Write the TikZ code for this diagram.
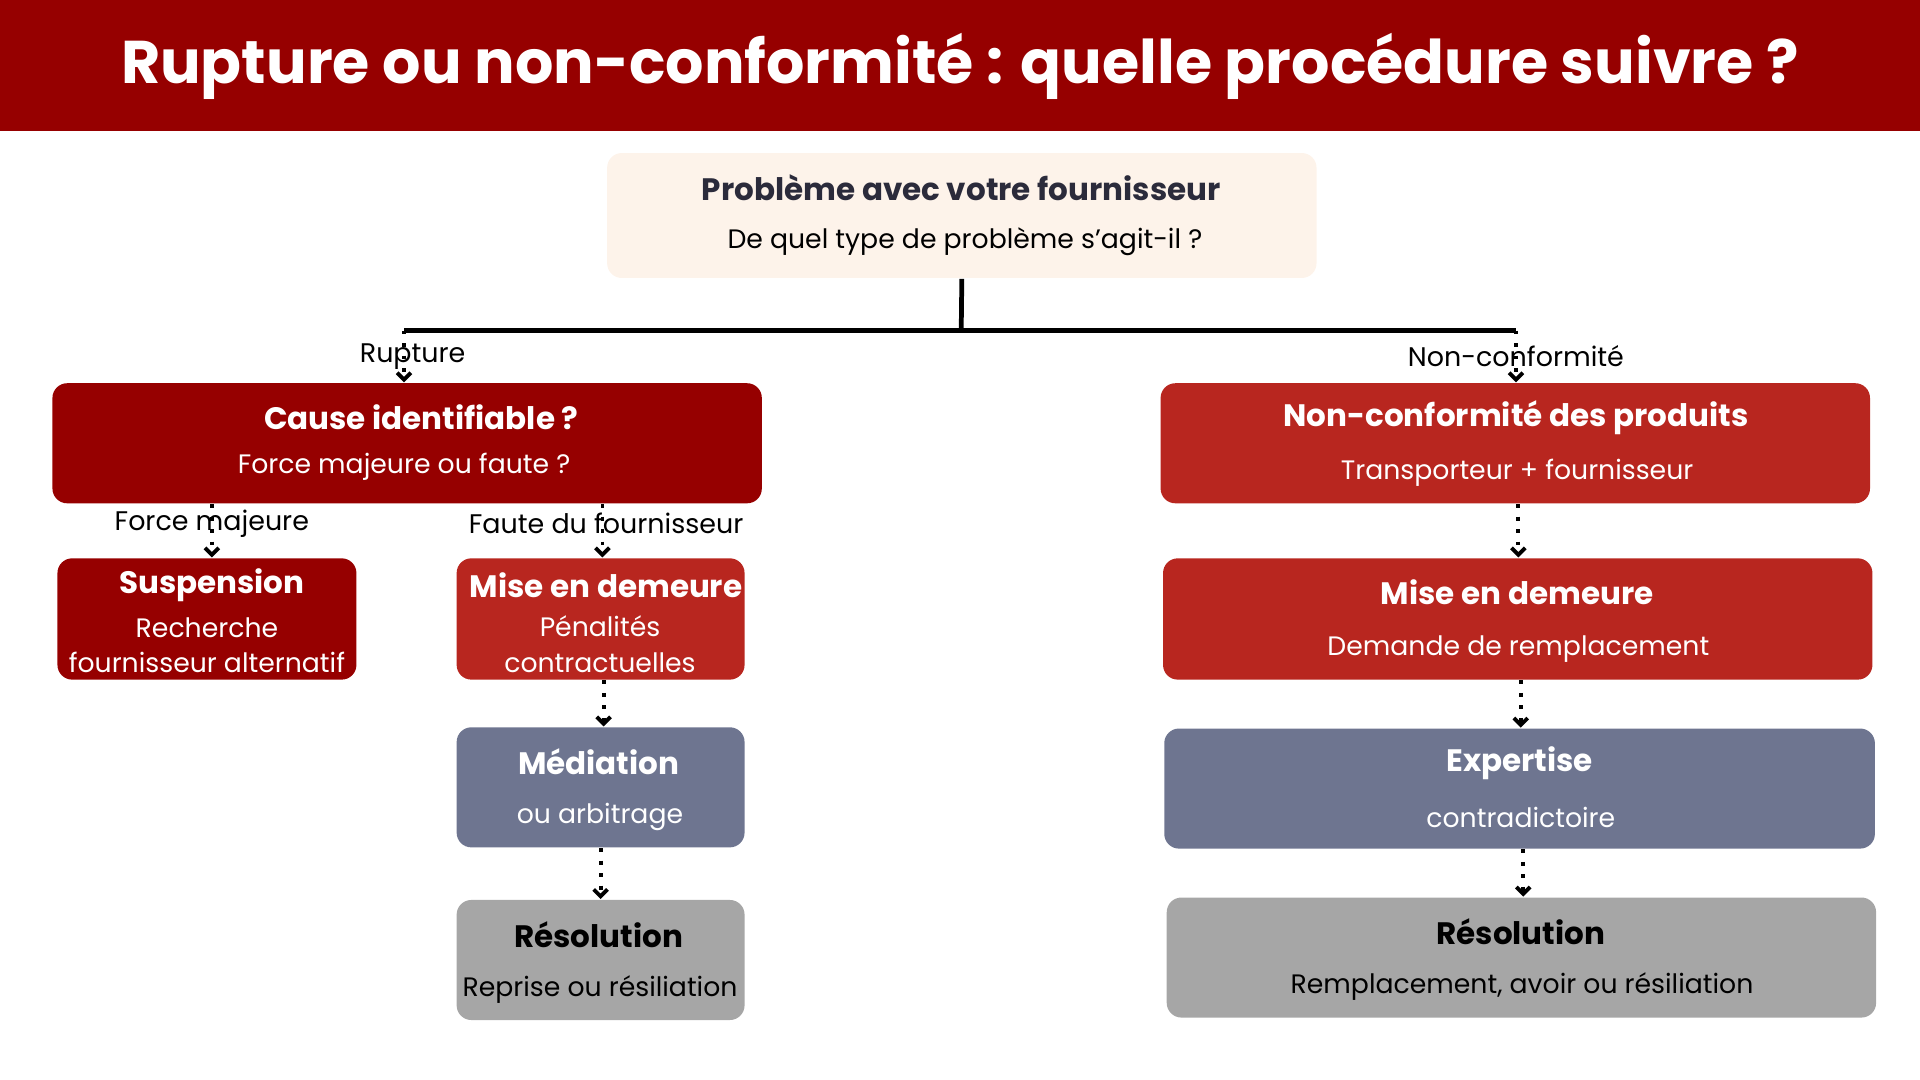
\documentclass[tikz,border=0pt]{standalone}
\usepackage{fontspec}
\setmainfont{Poppins}
\usetikzlibrary{arrows.meta}
\definecolor{barred}{HTML}{960000}
\definecolor{midred}{HTML}{B8261F}
\definecolor{slate}{HTML}{6E7590}
\definecolor{greybox}{HTML}{A6A6A6}
\definecolor{cream}{HTML}{FDF3EA}
\definecolor{navy}{HTML}{2B2B3B}
\tikzset{
  box/.style={rounded corners=0.12cm, inner sep=0pt},
  head/.style={font=\fontsize{7.2}{8.5}\selectfont\bfseries, text=white},
  sub/.style={font=\fontsize{6.2}{8.2}\selectfont, text=white, align=center},
  lab/.style={font=\fontsize{6.25}{7.5}\selectfont, text=black},
  flow/.style={dotted, line width=0.9pt, -{Straight Barb[length=1.6pt,width=3.2pt]}},
}
\begin{document}
\begin{tikzpicture}[x=0.01cm, y=-0.01cm]
\useasboundingbox (0,0) rectangle (1568,882);
\fill[barred] (0,0) rectangle (1568,107);
\node[font=\fontsize{14}{17}\selectfont\bfseries, text=white] (title) at (784,54) {Rupture ou non-conformité : quelle procédure suivre ?};

% top question
\node[box, fill=cream, minimum width=5.79cm, minimum height=1.02cm] (prob) at (785.5,176) {};
\node[head, text=navy] (probh) at (785,153) {Problème avec votre fournisseur};
\node[sub, text=black] (probs) at (788,197) {De quel type de problème s’agit-il ?};

% left branch
\node[box, fill=barred, minimum width=5.79cm, minimum height=0.98cm] (cause) at (332.5,362) {};
\node[head] at (344,341) {Cause identifiable ?};
\node[sub] at (330,381) {Force majeure ou faute ?};
\node[box, fill=barred, minimum width=2.44cm, minimum height=0.99cm] (susp) at (169,505.5) {};
\node[head] at (173,478) {Suspension};
\node[sub] at (169,527) {Recherche\\fournisseur alternatif};
\node[box, fill=midred, minimum width=2.35cm, minimum height=0.99cm] (mdl) at (490.5,505.5) {};
\node[head] at (495,478) {Mise en demeure};
\node[sub] at (490,526) {Pénalités\\contractuelles};
\node[box, fill=slate, minimum width=2.35cm, minimum height=0.98cm] (med) at (490.5,643) {};
\node[head] at (489,622) {Médiation};
\node[sub] at (490,667) {ou arbitrage};
\node[box, fill=greybox, minimum width=2.35cm, minimum height=0.98cm] (resl) at (490.5,784) {};
\node[head, text=black] at (489,763) {Résolution};
\node[sub, text=black] at (490,808) {Reprise ou résiliation};

% right branch
\node[box, fill=midred, minimum width=5.79cm, minimum height=0.98cm] (ncp) at (1237.5,362) {};
\node[head] at (1238,341) {Non-conformité des produits};
\node[sub] at (1239,386) {Transporteur + fournisseur};
\node[box, fill=midred, minimum width=5.79cm, minimum height=0.99cm] (mdr) at (1239.5,505.5) {};
\node[head] at (1239,484) {Mise en demeure};
\node[sub] at (1240,530) {Demande de remplacement};
\node[box, fill=slate, minimum width=5.8cm, minimum height=0.98cm] (exp) at (1241,644) {};
\node[head] at (1241,623) {Expertise};
\node[sub] at (1242,668) {contradictoire};
\node[box, fill=greybox, minimum width=5.79cm, minimum height=0.98cm] (resr) at (1242.5,782) {};
\node[head, text=black] at (1242,761) {Résolution};
\node[sub, text=black] at (1243,806) {Remplacement, avoir ou résiliation};

% connectors
\coordinate (split) at (785,270);
\coordinate (jrup) at (330,270);
\coordinate (jnc) at (1238,270);
\draw[line width=1.1pt] (prob.south) -- (split);
\draw[line width=1.1pt] (jrup) -- (jnc);
\node[lab] at (337,291) {Rupture};
\node[lab] at (1238,291) {Non-conformité};
\node[lab] at (173,428) {Force majeure};
\node[lab] at (495,427) {Faute du fournisseur};
\draw[flow] (jrup) -- (jrup |- cause.north);
\draw[flow] (jnc) -- (jnc |- ncp.north);
\draw[flow] (cause.south -| susp.north) ++(4,0) coordinate (fm) -- (fm |- susp.north);
\draw[flow] (cause.south -| 492,0) coordinate (ff) -- (ff |- mdl.north);
\draw[flow] (mdl.south -| 493,0) coordinate (a1) -- (a1 |- med.north);
\draw[flow] (med.south) -- (resl.north);
\draw[flow] (ncp.south -| 1240,0) coordinate (a2) -- (a2 |- mdr.north);
\draw[flow] (mdr.south -| 1242,0) coordinate (a3) -- (a3 |- exp.north);
\draw[flow] (exp.south -| 1244,0) coordinate (a4) -- (a4 |- resr.north);
\end{tikzpicture}
\end{document}
